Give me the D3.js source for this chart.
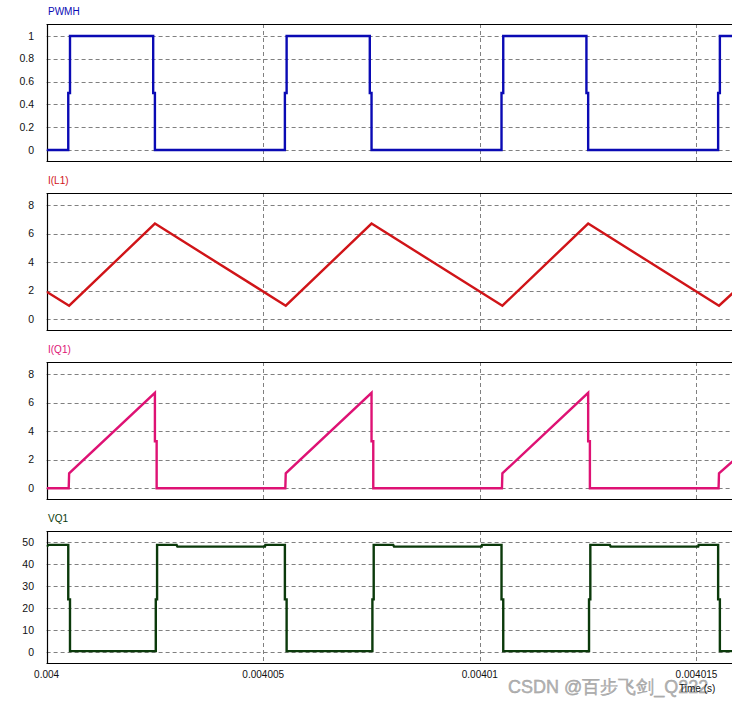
<!DOCTYPE html>
<html>
<head>
<meta charset="utf-8">
<script src="https://cdn.jsdelivr.net/npm/d3@7"></script>
<style>
  html, body { margin: 0; padding: 0; background: #fff; }
  svg { display: block; }
  text { font-family: "Liberation Sans", Arial, sans-serif; }
</style>
</head>
<body>
<svg id="chart" width="732" height="705"></svg>
<script>
// ---------- data (time in microseconds after 0.004 s) ----------
const xTickValues = [0.004, 0.004005, 0.00401, 0.004015];
const xTickLabels = ["0.004", "0.004005", "0.00401", "0.004015"];

const pwmhT = [0, 0.50, 0.50, 0.54, 0.54, 2.46, 2.46, 2.50, 2.50, 5.50, 5.50, 5.54, 5.54, 7.46, 7.46, 7.50, 7.50, 10.50, 10.50, 10.54, 10.54, 12.46, 12.46, 12.50, 12.50, 15.50, 15.50, 15.54, 15.54, 15.95];
const pwmhV = [0, 0, 0.5, 0.5, 1, 1, 0.5, 0.5, 0, 0, 0.5, 0.5, 1, 1, 0.5, 0.5, 0, 0, 0.5, 0.5, 1, 1, 0.5, 0.5, 0, 0, 0.5, 0.5, 1, 1];
const pwmhTicks = [0, 0.2, 0.4, 0.6, 0.8, 1];

const il1T = [0, 0.52, 2.50, 5.52, 7.50, 10.52, 12.50, 15.52, 15.95];
const il1V = [1.93, 0.95, 6.70, 0.95, 6.70, 0.95, 6.70, 0.95, 2.15];
const il1Ticks = [0, 2, 4, 6, 8];

const iq1T = [0, 0.51, 0.52, 2.50, 2.50, 2.54, 2.54, 5.51, 5.52, 7.50, 7.50, 7.54, 7.54, 10.51, 10.52, 12.50, 12.50, 12.54, 12.54, 15.51, 15.52, 15.95];
const iq1V = [0, 0, 1.05, 6.70, 3.30, 3.30, 0, 0, 1.05, 6.70, 3.30, 3.30, 0, 0, 1.05, 6.70, 3.30, 3.30, 0, 0, 1.05, 2.2];
const iq1Ticks = [0, 2, 4, 6, 8];

const vq1T = [0, 0.05, 0.50, 0.50, 0.54, 0.54, 2.52, 2.52, 2.55, 2.55, 3.00, 3.02, 5.04, 5.05, 5.50, 5.50, 5.54, 5.54, 7.52, 7.52, 7.55, 7.55, 8.00, 8.02, 10.04, 10.05, 10.50, 10.50, 10.54, 10.54, 12.52, 12.52, 12.55, 12.55, 13.00, 13.02, 15.04, 15.05, 15.50, 15.50, 15.54, 15.54, 15.95];
const vq1V = [48.0, 48.8, 48.8, 24, 24, 0.5, 0.5, 24, 24, 48.8, 48.8, 48.0, 48.0, 48.8, 48.8, 24, 24, 0.5, 0.5, 24, 24, 48.8, 48.8, 48.0, 48.0, 48.8, 48.8, 24, 24, 0.5, 0.5, 24, 24, 48.8, 48.8, 48.0, 48.0, 48.8, 48.8, 24, 24, 0.5, 0.5];
const vq1Ticks = [0, 10, 20, 30, 40, 50];

const panelTitles = ["PWMH", "I(L1)", "I(Q1)", "VQ1"];
const panelColors = ["#0a0ab4", "#d01418", "#de1274", "#0b3a0b"];

// ---------- layout ----------
const svg = d3.select("#chart");
const left = 46.6, right = 742;
const x = d3.scaleLinear().domain([0.004, 0.004 + 15.82e-6]).range([left, 732]);

const panels = [
  { title: panelTitles[0], color: panelColors[0], t: pwmhT, v: pwmhV, ticks: pwmhTicks, fmt: d3.format("~g"), top: 24, bottom: 161, domain: [-0.096, 1.105] },
  { title: panelTitles[1], color: panelColors[1], t: il1T, v: il1V, ticks: il1Ticks, fmt: d3.format("d"), top: 193, bottom: 330, domain: [-0.75, 8.84] },
  { title: panelTitles[2], color: panelColors[2], t: iq1T, v: iq1V, ticks: iq1Ticks, fmt: d3.format("d"), top: 362, bottom: 499, domain: [-0.75, 8.86] },
  { title: panelTitles[3], color: panelColors[3], t: vq1T, v: vq1V, ticks: vq1Ticks, fmt: d3.format("d"), top: 531, bottom: 663, domain: [-4.9, 55.1] }
];

panels.forEach((p, i) => {
  const y = d3.scaleLinear().domain(p.domain).range([p.bottom, p.top]);
  const g = svg.append("g");

  // clip
  const cid = "clip" + i;
  svg.append("defs").append("clipPath").attr("id", cid)
    .append("rect").attr("x", left).attr("y", p.top).attr("width", right - left).attr("height", p.bottom - p.top);

  // horizontal grid
  g.append("g").selectAll("line").data(p.ticks).join("line")
    .attr("x1", left).attr("x2", right)
    .attr("y1", d => Math.round(y(d)) + 0.5).attr("y2", d => Math.round(y(d)) + 0.5)
    .attr("stroke", "#808080").attr("stroke-width", 1).attr("stroke-dasharray", "4,3");

  // vertical grid
  g.append("g").selectAll("line").data(xTickValues.slice(1)).join("line")
    .attr("x1", d => Math.round(x(d)) + 0.5).attr("x2", d => Math.round(x(d)) + 0.5)
    .attr("y1", p.top).attr("y2", p.bottom)
    .attr("stroke", "#808080").attr("stroke-width", 1).attr("stroke-dasharray", "4,3");

  // frame (top, left, bottom)
  const fr = g.append("g").attr("stroke", "#000").attr("stroke-width", 1.2);
  fr.append("line").attr("x1", left).attr("x2", right).attr("y1", p.top + 0.5).attr("y2", p.top + 0.5);
  fr.append("line").attr("x1", left).attr("x2", right).attr("y1", p.bottom + 0.5).attr("y2", p.bottom + 0.5);
  fr.append("line").attr("x1", Math.round(left) + 0.5).attr("x2", Math.round(left) + 0.5).attr("y1", p.top).attr("y2", p.bottom + 1);

  // y labels
  g.append("g").selectAll("text").data(p.ticks).join("text")
    .attr("x", 34).attr("y", d => y(d)).attr("dy", "0.35em")
    .attr("text-anchor", "end").attr("font-size", 10.5).attr("fill", "#111")
    .text(d => p.fmt(d));

  // title
  g.append("text").attr("x", 48).attr("y", p.top - 9)
    .attr("font-size", 10).attr("fill", p.color).text(p.title);

  // series
  const pts = p.t.map((t, k) => [0.004 + t * 1e-6, p.v[k]]);
  const line = d3.line().x(d => x(d[0])).y(d => y(d[1]));
  g.append("path").attr("clip-path", `url(#${cid})`)
    .attr("d", line(pts)).attr("fill", "none")
    .attr("stroke", p.color).attr("stroke-width", 2.4)
    .attr("stroke-linejoin", "miter");
});

// x tick labels
svg.append("g").selectAll("text").data(xTickValues).join("text")
  .attr("x", d => x(d)).attr("y", 678)
  .attr("text-anchor", "middle").attr("font-size", 10).attr("fill", "#111")
  .text((d, k) => xTickLabels[k]);

// watermark
svg.append("text").attr("x", 508).attr("y", 693)
  .attr("font-size", 18).attr("fill", "#b4b4b4").attr("stroke", "#9a9a9a").attr("stroke-width", 0.4)
  .attr("font-family", "'Liberation Sans', 'Noto Sans CJK SC', sans-serif")
  .text("CSDN @百步飞剑_Q222");

// axis name
svg.append("text").attr("x", 679).attr("y", 692)
  .attr("font-size", 10).attr("fill", "#111").text("Time (s)");
</script>
</body>
</html>
